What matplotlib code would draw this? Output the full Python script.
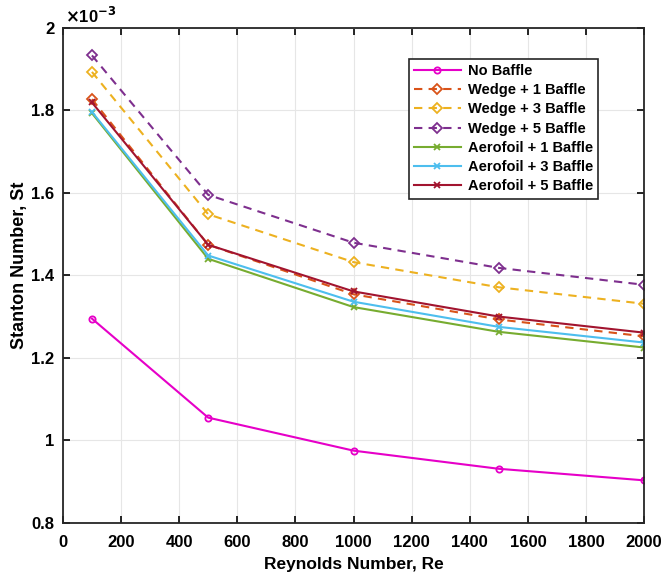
import numpy as np
import matplotlib
matplotlib.use("Agg")
import matplotlib.pyplot as plt

plt.rcParams['font.family'] = ['Liberation Sans', 'DejaVu Sans']
plt.rcParams['font.weight'] = 'bold'

# Datos (St x 1e-3)
re = [100, 500, 1000, 1500, 2000]
no_baffle = [1.295, 1.055, 0.975, 0.931, 0.903]
wedge_1 = [1.827, 1.474, 1.354, 1.293, 1.252]
wedge_3 = [1.893, 1.548, 1.432, 1.371, 1.331]
wedge_5 = [1.933, 1.595, 1.479, 1.418, 1.377]
aero_1 = [1.793, 1.440, 1.323, 1.263, 1.225]
aero_3 = [1.796, 1.448, 1.336, 1.275, 1.237]
aero_5 = [1.819, 1.474, 1.361, 1.300, 1.261]

labels = ['No Baffle', 'Wedge + 1 Baffle', 'Wedge + 3 Baffle', 'Wedge + 5 Baffle',
          'Aerofoil + 1 Baffle', 'Aerofoil + 3 Baffle', 'Aerofoil + 5 Baffle']
series = [no_baffle, wedge_1, wedge_3, wedge_5, aero_1, aero_3, aero_5]
colors = ['#e600c8', '#D95319', '#EDB120', '#7E2F8E', '#77AC30', '#4DBEEE', '#A2142F']
styles = ['-', '--', '--', '--', '-', '-', '-']
markers = ['o', 'D', 'D', 'D', 'x', 'x', 'x']
msizes = [4.5, 5, 5, 5, 4, 4, 4]

fig = plt.figure(figsize=(6.62, 5.79), dpi=100)
ax = fig.add_axes([0.095, 0.097, 0.878, 0.855])

for y, lab, c, ls, m, ms in zip(series, labels, colors, styles, markers, msizes):
    ax.plot(re, np.array(y) * 1e-3, ls, color=c, marker=m, ms=ms, mfc='none',
            mew=1.3, lw=1.5, label=lab, dashes=(4, 3) if ls == '--' else (None, None))

ax.set_xlim(0, 2000)
ax.set_ylim(0.8e-3, 2.0e-3)
ax.set_xticks(np.arange(0, 2001, 200))
ax.set_yticks(np.arange(0.8e-3, 2.01e-3, 0.2e-3))
ax.set_yticklabels(['0.8', '1', '1.2', '1.4', '1.6', '1.8', '2'])
ax.text(0.003, 1.004, r'$\times$10$^{\mathbf{-3}}$', transform=ax.transAxes,
        fontsize=12, va='bottom', ha='left')

ax.grid(True, color='#e6e6e6', lw=0.8)
ax.tick_params(direction='in', top=True, right=True, labelsize=12, width=1.2, length=5)
ax.tick_params(axis='y', pad=6)
ax.tick_params(axis='x', pad=9)
for s in ax.spines.values():
    s.set_linewidth(1.3)
    s.set_color('#262626')

ax.set_xlabel('Reynolds Number, Re', fontsize=12.5, fontweight='bold', labelpad=5)
ax.set_ylabel('Stanton Number, St', fontsize=13, fontweight='bold')
ax.yaxis.set_label_coords(-0.060, 0.52)

leg = ax.legend(loc='upper right', bbox_to_anchor=(0.934, 0.952), fontsize=10.5,
                fancybox=False, edgecolor='#262626', framealpha=1,
                handlelength=3.2, borderpad=0.35, labelspacing=0.36, handletextpad=0.5)
leg.get_frame().set_linewidth(1.2)

fig.savefig('out.png', dpi=100)
